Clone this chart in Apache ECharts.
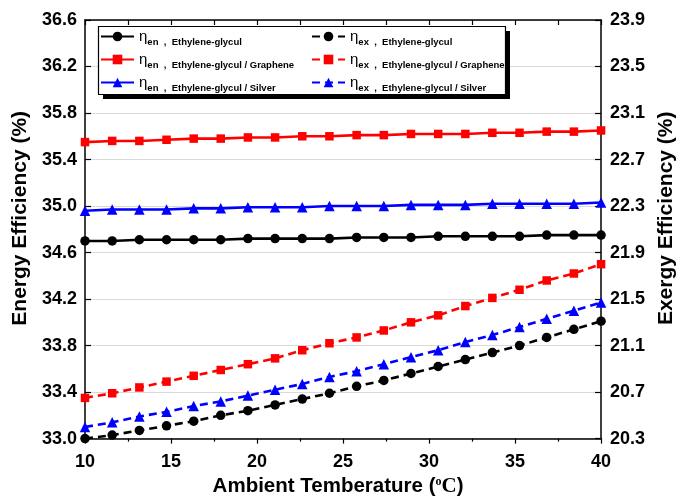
<!DOCTYPE html>
<html>
<head>
<meta charset="utf-8">
<script src="https://cdn.jsdelivr.net/npm/echarts@6/dist/echarts.min.js"></script>
<style>
html,body{margin:0;padding:0;background:#fff;}
#chart{width:685px;height:502px;}
</style>
</head>
<body>
<div id="chart"></div>
<script>
// Ambient temperature (°C)
const temperature = [10, 11.58, 13.16, 14.74, 16.32, 17.89, 19.47, 21.05, 22.63, 24.21,
                     25.79, 27.37, 28.95, 30.53, 32.11, 33.68, 35.26, 36.84, 38.42, 40];

// Energy efficiency (%) – left axis
const energyEG = [34.70, 34.70, 34.71, 34.71, 34.71, 34.71, 34.72, 34.72, 34.72, 34.72,
                  34.73, 34.73, 34.73, 34.74, 34.74, 34.74, 34.74, 34.75, 34.75, 34.75];
const energyGraphene = [35.55, 35.56, 35.56, 35.57, 35.58, 35.58, 35.59, 35.59, 35.60, 35.60,
                        35.61, 35.61, 35.62, 35.62, 35.62, 35.63, 35.63, 35.64, 35.64, 35.65];
const energySilver = [34.96, 34.97, 34.97, 34.97, 34.98, 34.98, 34.99, 34.99, 34.99, 35.00,
                      35.00, 35.00, 35.01, 35.01, 35.01, 35.02, 35.02, 35.02, 35.02, 35.03];

// Exergy efficiency (%) – right axis
const exergyEG = [20.30, 20.33, 20.37, 20.41, 20.45, 20.50, 20.54, 20.59, 20.64, 20.69,
                  20.75, 20.80, 20.86, 20.92, 20.98, 21.04, 21.10, 21.17, 21.24, 21.31];
const exergyGraphene = [20.65, 20.69, 20.74, 20.79, 20.84, 20.89, 20.94, 20.99, 21.06, 21.12,
                        21.17, 21.23, 21.30, 21.36, 21.44, 21.51, 21.58, 21.66, 21.72, 21.80];
const exergySilver = [20.40, 20.44, 20.49, 20.53, 20.58, 20.62, 20.67, 20.72, 20.77, 20.83,
                      20.88, 20.94, 21.00, 21.06, 21.13, 21.19, 21.26, 21.33, 21.40, 21.47];

// Axis ranges / tick steps
const tempRange = [10, 40];
const tempStep = 5;
const energyRange = [33.0, 36.6];
const exergyRange = [20.3, 23.9];
const effStep = 0.4;

// Legend labels
const fluidNames = ['Ethylene-glycul', 'Ethylene-glycul / Graphene', 'Ethylene-glycul / Silver'];

const FONT = '"Liberation Sans", Arial, sans-serif';
const zip = (xs, ys) => xs.map((x, i) => [x, ys[i]]);

const chart = echarts.init(document.getElementById('chart'), null, {renderer: 'canvas'});

function mkSeries(name, data, color, symbol, size, dashed, yIdx) {
  return {
    name: name,
    type: 'line',
    xAxisIndex: 0,
    yAxisIndex: yIdx,
    data: data,
    symbol: symbol,
    symbolSize: size,
    showSymbol: true,
    showAllSymbol: true,
    clip: false,
    z: 3,
    lineStyle: {color: color, width: 2.6, type: dashed ? [8, 5] : 'solid'},
    itemStyle: {color: color, borderWidth: 0},
    emphasis: {disabled: true}
  };
}

const series = [
  mkSeries('en0', zip(temperature, energyEG), '#000000', 'circle', 9.5, false, 0),
  mkSeries('en1', zip(temperature, energyGraphene), '#ff0000', 'rect', 8.5, false, 0),
  mkSeries('en2', zip(temperature, energySilver), '#0000ff', 'triangle', 10.5, false, 0),
  mkSeries('ex0', zip(temperature, exergyEG), '#000000', 'circle', 9.5, true, 1),
  mkSeries('ex1', zip(temperature, exergyGraphene), '#ff0000', 'rect', 8.5, true, 1),
  mkSeries('ex2', zip(temperature, exergySilver), '#0000ff', 'triangle', 10.5, true, 1)
];

const legendRich = {
  eta: {fontFamily: FONT, fontSize: 15, color: '#000', lineHeight: 22, verticalAlign: 'middle'},
  sub: {fontFamily: FONT, fontSize: 9.5, fontWeight: 'bold', color: '#000', lineHeight: 10, verticalAlign: 'bottom'},
  txt: {fontFamily: FONT, fontSize: 9.5, fontWeight: 'bold', color: '#000', lineHeight: 11, verticalAlign: 'bottom'}
};
function legendFormatter(name) {
  const kind = name.slice(0, 2);
  const idx = +name.slice(2);
  return '{eta|η}{sub|' + kind + '}{txt|  ,  ' + fluidNames[idx] + '}';
}
function mkLegend(left, names) {
  return {
    orient: 'vertical',
    left: left,
    top: 29,
    padding: 0,
    itemGap: 4.5,
    itemWidth: 33,
    itemHeight: 12,
    selectedMode: false,
    data: names,
    formatter: legendFormatter,
    textStyle: {rich: legendRich, color: '#000'},
    z: 6
  };
}

const axisLabelStyle = {color: '#000', fontFamily: FONT, fontWeight: 'bold', fontSize: 18};
const axisLineStyle = {show: true, lineStyle: {color: '#000', width: 1.5}};
const nameStyle = {color: '#000', fontFamily: FONT, fontWeight: 'bold', fontSize: 21};

const option = {
  animation: false,
  backgroundColor: '#ffffff',
  grid: {left: 85, right: 72, top: 20, bottom: 55, containLabel: false},
  legend: [mkLegend(100, ['en0', 'en1', 'en2']), mkLegend(311, ['ex0', 'ex1', 'ex2'])],
  graphic: [
    {type: 'rect', z: 5, shape: {x: 103, y: 31, width: 407, height: 68}, style: {fill: '#000'}},
    {type: 'rect', z: 5, shape: {x: 98.5, y: 26.5, width: 407, height: 68}, style: {fill: '#fff', stroke: '#000', lineWidth: 1.2}}
  ],
  xAxis: [
    {
      type: 'value', position: 'bottom', min: tempRange[0], max: tempRange[1], interval: tempStep,
      axisLine: axisLineStyle,
      axisTick: {show: true, inside: false, length: 5, lineStyle: {color: '#000', width: 1.2}},
      minorTick: {show: true, splitNumber: 2, length: 3, lineStyle: {color: '#000', width: 1.2}},
      splitLine: {show: false},
      axisLabel: Object.assign({margin: 14}, axisLabelStyle),
      name: 'Ambient Temberature ({sup|o}{serif|C})',
      nameLocation: 'middle',
      nameGap: 34,
      nameTextStyle: Object.assign({}, nameStyle, {
        fontSize: 20.5,
        padding: [0, 10, 0, 0],
        rich: {
          sup: {fontFamily: '"Liberation Serif", serif', fontSize: 12, color: '#000', verticalAlign: 'top', lineHeight: 12},
          serif: {fontFamily: '"Liberation Serif", serif', fontSize: 21, color: '#000', lineHeight: 22}
        }
      })
    },
    {
      type: 'value', position: 'top', min: tempRange[0], max: tempRange[1], interval: tempStep,
      axisLine: axisLineStyle,
      axisTick: {show: true, inside: true, length: 5, lineStyle: {color: '#000', width: 1.2}},
      minorTick: {show: true, splitNumber: 2, length: 5, lineStyle: {color: '#000', width: 1.2}},
      splitLine: {show: false},
      axisLabel: {show: false}
    }
  ],
  yAxis: [
    {
      type: 'value', position: 'left', min: energyRange[0], max: energyRange[1], interval: effStep,
      axisLine: axisLineStyle,
      axisTick: {show: true, inside: true, length: 6, lineStyle: {color: '#000', width: 1.2}},
      splitLine: {show: true, lineStyle: {color: '#d9d9d9', width: 1}},
      axisLabel: Object.assign({margin: 8, formatter: v => v.toFixed(1)}, axisLabelStyle),
      name: 'Energy Efficiency (%)',
      nameLocation: 'middle',
      nameRotate: 90,
      nameGap: 52,
      nameTextStyle: Object.assign({padding: [0, 0, 0, 22]}, nameStyle)
    },
    {
      type: 'value', position: 'right', min: exergyRange[0], max: exergyRange[1], interval: effStep,
      axisLine: axisLineStyle,
      axisTick: {show: true, inside: true, length: 6, lineStyle: {color: '#000', width: 1.2}},
      splitLine: {show: false},
      axisLabel: Object.assign({margin: 9, formatter: v => v.toFixed(1)}, axisLabelStyle),
      name: 'Exergy Efficiency (%)',
      nameLocation: 'middle',
      nameRotate: 90,
      nameGap: 52,
      nameTextStyle: Object.assign({padding: [0, 0, 0, 22]}, nameStyle)
    }
  ],
  series: series
};

chart.setOption(option);
</script>
</body>
</html>
